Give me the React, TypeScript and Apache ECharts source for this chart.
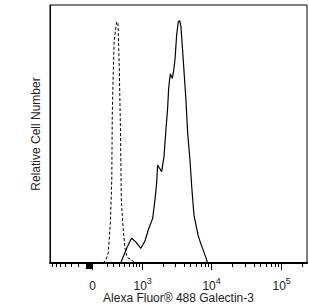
import React, { useEffect, useRef } from 'react';
import * as echarts from 'echarts';

// biexponential-like display transform (decades)
const W = 400;
const tf = (v: number) => Math.asinh(v / W) / Math.LN10;

// Galectin-3 stained sample (solid)
const stainedFL = [426, 548, 665, 785, 938, 1083, 1216, 1415, 1529, 1620, 1676, 1780, 1916, 2072, 2212, 2344, 2424, 2560, 2732, 2840, 2988, 3160, 3336, 3492, 3644, 3932, 4296, 4548, 4904, 5240, 5600, 6120, 6452, 6984, 7656, 8504, 8732];
const stainedCount = [0, 5.7, 9.6, 8.1, 5.7, 8.5, 12.8, 17.3, 24.4, 30.9, 38.0, 36.8, 35.4, 41.1, 51.6, 60.1, 67.8, 73.3, 71.6, 74.0, 78.7, 88.4, 93.5, 93.9, 91.6, 78.7, 63.2, 50.4, 39.9, 28.3, 18.6, 13.4, 10.5, 7.6, 4.7, 1.2, 0];

// isotype control (dashed)
const isotypeFL = [139, 182, 216, 249, 270, 278, 294, 310, 339, 352, 375, 398, 422, 437, 476, 513, 544, 584, 648, 698, 807, 908];
const isotypeCount = [0, 1.2, 3.9, 15.9, 32.2, 57.4, 74.1, 86.4, 91.6, 93.5, 92.9, 76.1, 50.4, 24.4, 12.8, 5.7, 3.1, 1.8, 1.6, 0.6, 0.2, 0];

// axis ticks
const majorTickValues = [0, 1000, 10000, 100000];
const majorTickLabels = ['{base|0}', '{base|10}{sup|3}', '{base|10}{sup|4}', '{base|10}{sup|5}'];
const minorTickValues = [-700, -600, -500, -400, -300, -200, 200, 300, 400, 500, 600, 700, 800, 900, 2000, 3000, 4000, 5000, 6000, 7000, 8000, 9000, 20000, 30000, 40000, 50000, 60000, 70000, 80000, 90000, 200000];
const zeroBlockTickValues = [-90, -80, -70, -60, -50, -40, -30, -20, -10, 0];
const xRange = [-760, 230000];

const xTitle = 'Alexa Fluor® 488 Galectin-3';
const yTitle = 'Relative Cell Number';

export default function App() {
  const ref = useRef<HTMLDivElement>(null);
  useEffect(() => {
    const chart = echarts.init(ref.current!, null, { renderer: 'svg' });
    const font = '"Liberation Sans", Arial, sans-serif';
    const xMin = tf(xRange[0]);
    const xMax = tf(xRange[1]);
    const majorT = majorTickValues.map(tf);
    const baseAxis = {
      type: 'value',
      min: xMin,
      max: xMax,
      gridIndex: 0,
      position: 'bottom',
      splitLine: { show: false },
    };
    chart.setOption({
      animation: false,
      grid: {
        left: 50, right: 2, top: 5, bottom: 43,
        show: true, borderColor: '#000', borderWidth: 1,
        outerBoundsMode: 'none',
      },
      xAxis: [
        {
          ...baseAxis,
          axisLine: { show: true, onZero: false, lineStyle: { color: '#000', width: 2 } },
          axisTick: { show: true, length: 7, lineStyle: { color: '#000', width: 1 }, customValues: majorT },
          axisLabel: {
            show: true,
            customValues: majorT,
            margin: 13,
            color: '#222',
            fontFamily: font,
            fontSize: 12,
            formatter: (val: number) => {
              let best = 0;
              for (let i = 0; i < majorT.length; i++) {
                if (Math.abs(majorT[i] - val) < Math.abs(majorT[best] - val)) best = i;
              }
              return majorTickLabels[best];
            },
            rich: {
              base: { fontSize: 12, fontFamily: font, color: '#222', lineHeight: 16, verticalAlign: 'bottom' },
              sup: { fontSize: 9, fontFamily: font, color: '#222', lineHeight: 8, verticalAlign: 'top' },
            },
          },
          name: xTitle,
          nameLocation: 'middle',
          nameGap: 29,
          nameMoveOverlap: false,
          nameTextStyle: { color: '#222', fontFamily: font, fontSize: 12, lineHeight: 12 },
        },
        {
          ...baseAxis,
          axisLine: { show: false, onZero: false },
          axisTick: { show: true, length: 4, lineStyle: { color: '#000', width: 1 }, customValues: minorTickValues.map(tf) },
          axisLabel: { show: false },
        },
        {
          ...baseAxis,
          axisLine: { show: false, onZero: false },
          axisTick: { show: true, length: 6, lineStyle: { color: '#000', width: 1 }, customValues: zeroBlockTickValues.map(tf) },
          axisLabel: { show: false },
        },
      ],
      yAxis: {
        type: 'value',
        min: 0,
        max: 100,
        axisLine: { show: true, onZero: false, lineStyle: { color: '#000', width: 1 } },
        axisTick: { show: false },
        axisLabel: { show: false },
        splitLine: { show: false },
        name: yTitle,
        nameLocation: 'middle',
        nameGap: 8,
        nameMoveOverlap: false,
        nameTextStyle: { color: '#222', fontFamily: font, fontSize: 12 },
      },
      series: [
        {
          type: 'line',
          xAxisIndex: 0,
          data: isotypeFL.map((v, i) => [tf(v), isotypeCount[i]]),
          showSymbol: false,
          symbol: 'none',
          lineStyle: { color: '#000', width: 1, type: [3, 2] },
          z: 3,
        },
        {
          type: 'line',
          xAxisIndex: 0,
          data: stainedFL.map((v, i) => [tf(v), stainedCount[i]]),
          showSymbol: false,
          symbol: 'none',
          lineStyle: { color: '#000', width: 1.2 },
          z: 4,
        },
      ],
    });
    return () => chart.dispose();
  }, []);
  return (
    <div
      ref={ref}
      style={{ position: 'fixed', left: 0, top: 0, width: 309, height: 306, background: '#fff' }}
    />
  );
}
